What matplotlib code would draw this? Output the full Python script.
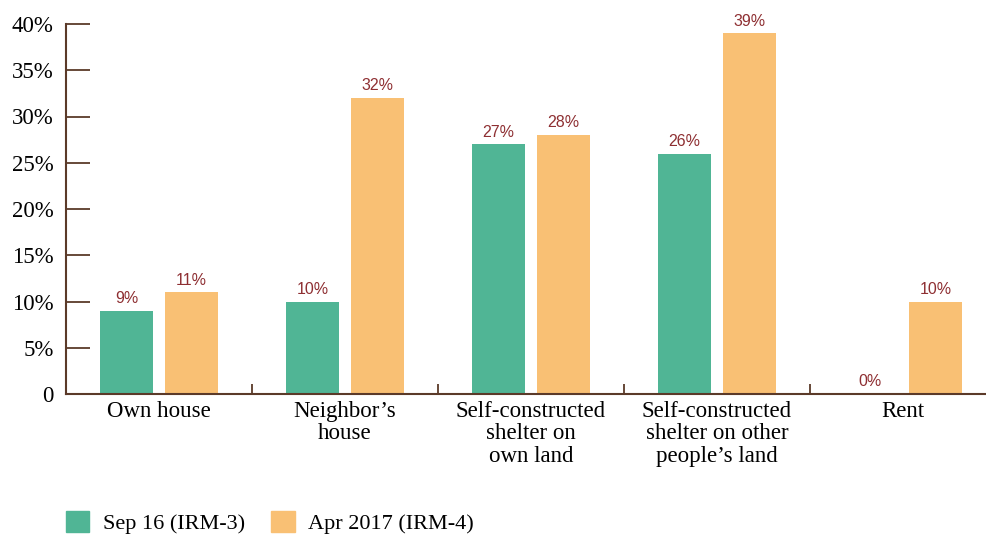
"""Shelter type by survey round: grouped bars, Sep 16 vs Apr 2017."""

import numpy as np
import matplotlib
matplotlib.use("Agg")
import matplotlib.pyplot as plt
import matplotlib.ticker as mticker
from matplotlib.patches import Patch

CATEGORIES = [
    "Own house",
    "Neighbor’s\nhouse",
    "Self-constructed\nshelter on\nown land",
    "Self-constructed\nshelter on other\npeople’s land",
    "Rent",
]
SEP16 = [9, 10, 27, 26, 0]
APR17 = [11, 32, 28, 39, 10]
SERIES_LABELS = ["Sep 16 (IRM-3)", "Apr 2017 (IRM-4)"]
Y_TICKS = [0, 5, 10, 15, 20, 25, 30, 35, 40]

GREEN = "#50B595"
ORANGE = "#F9C074"
BROWN = "#5B3A29"
LABEL_RED = "#8E2F32"
SERIF = ["Liberation Serif", "DejaVu Serif"]
SANS = ["Liberation Sans", "DejaVu Sans"]

W, H = 987, 536
fig = plt.figure(figsize=(W / 100, H / 100), dpi=100)
# axes: spine at x=66, groups 186 px wide, baseline y=394, 40% at y=24
ax = fig.add_axes([66 / W, (H - 394) / H, 930 / W, 370 / H])

x = np.arange(len(CATEGORIES))
bw = 0.285
off = 0.175
b1 = ax.bar(x - off, SEP16, bw, color=GREEN, zorder=2)
b2 = ax.bar(x + off, APR17, bw, color=ORANGE, zorder=2)

for bars, vals in ((b1, SEP16), (b2, APR17)):
    for rect, v in zip(bars, vals):
        ax.text(rect.get_x() + rect.get_width() / 2, v + 0.5, f"{v}%",
                ha="center", va="bottom", fontsize=11.5, color=LABEL_RED,
                family=SANS)

ax.set_xlim(-0.5, len(CATEGORIES) - 0.5)
ax.set_ylim(0, 40)
ax.set_yticks(Y_TICKS)
ax.yaxis.set_major_formatter(
    mticker.FuncFormatter(lambda v, _: "0" if v == 0 else f"{v:.0f}%"))
ax.tick_params(axis="y", direction="in", length=17, width=1.3, color=BROWN,
               labelsize=16.5, pad=9)
for lab in ax.get_yticklabels():
    lab.set_family(SERIF)

ax.set_xticks(x)
ax.set_xticklabels(CATEGORIES, family=SERIF, fontsize=16.5, linespacing=1.08)
ax.tick_params(axis="x", which="major", length=0, pad=5)
ax.set_xticks(np.arange(0.5, len(CATEGORIES) - 0.5, 1), minor=True)
ax.tick_params(axis="x", which="minor", direction="in", length=7, width=1.3,
               color=BROWN)

for side in ("top", "right"):
    ax.spines[side].set_visible(False)
for side in ("left", "bottom"):
    ax.spines[side].set_color(BROWN)
    ax.spines[side].set_linewidth(1.5)

handles = [Patch(color=GREEN), Patch(color=ORANGE)]
fig.legend(handles, SERIES_LABELS, loc="lower left",
           bbox_to_anchor=(46 / W, -18 / H), ncol=2, frameon=False,
           prop={"family": SERIF, "size": 16}, handlelength=1.05,
           handleheight=1.05, handletextpad=0.6, columnspacing=1.2)

fig.savefig("out.png", dpi=100)
